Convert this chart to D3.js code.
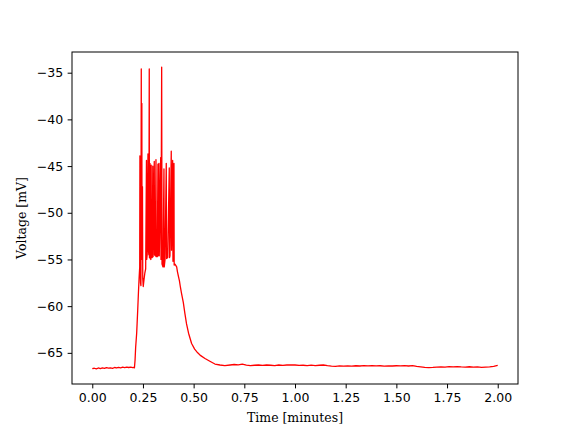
<!DOCTYPE html>
<html>
<head>
<meta charset="utf-8">
<script src="https://cdn.jsdelivr.net/npm/d3@7"></script>
<style>
  html, body { margin: 0; padding: 0; background: #fff; }
  svg { display: block; }
</style>
</head>
<body>
<svg id="chart" width="576" height="432"></svg>
<script>
// Time in minutes
const traceTime = [
  0.00, 0.01, 0.02, 0.03, 0.04, 0.05, 0.06, 0.07, 0.08, 0.09,
  0.10, 0.11, 0.12, 0.13, 0.14, 0.15, 0.16, 0.17, 0.18, 0.19,
  0.20, 0.205, 0.208, 0.211, 0.214, 0.219, 0.224, 0.228, 0.231, 0.234,
  0.235, 0.236, 0.238, 0.240, 0.2417, 0.2425, 0.2445, 0.2455, 0.2476, 0.249,
  0.2515, 0.255, 0.259, 0.2634, 0.2673, 0.2685, 0.271, 0.2747, 0.276, 0.279,
  0.2811, 0.282, 0.2846, 0.286, 0.289, 0.2905, 0.292, 0.2959, 0.2985, 0.300,
  0.3058, 0.307, 0.311, 0.3142, 0.3155, 0.3206, 0.324, 0.3255, 0.329, 0.3305,
  0.3374, 0.339, 0.3423, 0.344, 0.349, 0.3536, 0.355, 0.359, 0.365, 0.3665,
  0.372, 0.3798, 0.381, 0.3832, 0.3896, 0.391, 0.3965, 0.398, 0.403, 0.404,
  0.408, 0.4163, 0.42, 0.425, 0.43, 0.435, 0.44, 0.449, 0.457, 0.465,
  0.475, 0.49, 0.505, 0.52, 0.535, 0.556, 0.58, 0.605, 0.63, 0.654,
  0.68, 0.70, 0.72, 0.74, 0.76, 0.78, 0.80, 0.82, 0.84, 0.86,
  0.88, 0.90, 0.92, 0.94, 0.96, 0.98, 1.00, 1.02, 1.04, 1.06,
  1.08, 1.10, 1.12, 1.14, 1.16, 1.18, 1.20, 1.22, 1.24, 1.26,
  1.28, 1.30, 1.32, 1.34, 1.36, 1.38, 1.40, 1.42, 1.44, 1.46,
  1.48, 1.50, 1.52, 1.54, 1.56, 1.58, 1.60, 1.62, 1.64, 1.66,
  1.68, 1.70, 1.72, 1.74, 1.76, 1.78, 1.80, 1.82, 1.84, 1.86,
  1.88, 1.90, 1.92, 1.94, 1.96, 1.98, 2.00
];
// Membrane voltage in mV
const traceVoltage = [
  -66.70, -66.65, -66.72, -66.62, -66.68, -66.60, -66.66, -66.58, -66.64, -66.60,
  -66.66, -66.57, -66.62, -66.55, -66.60, -66.54, -66.59, -66.52, -66.57, -66.53,
  -66.58, -66.55, -66.60, -65.80, -64.40, -62.90, -60.50, -58.40, -57.00, -55.80,
  -43.90, -55.50, -57.50, -57.80, -34.60, -52.00, -38.30, -55.00, -47.20, -57.00,
  -57.90, -57.20, -56.50, -56.00, -44.40, -55.00, -54.50, -43.70, -53.80, -54.50,
  -34.60, -54.80, -44.70, -54.90, -55.00, -44.90, -54.80, -54.80, -45.00, -54.70,
  -44.50, -54.50, -54.60, -44.30, -54.70, -54.70, -44.80, -54.60, -44.70, -54.60,
  -44.10, -55.00, -34.40, -55.50, -55.80, -45.30, -55.80, -55.00, -44.70, -54.90,
  -54.80, -45.20, -54.80, -54.60, -43.40, -54.00, -44.40, -55.20, -44.70, -55.60,
  -55.50, -55.80, -56.30, -56.80, -57.30, -58.00, -58.60, -59.60, -60.80, -61.90,
  -62.90, -64.00, -64.60, -65.00, -65.30, -65.60, -65.90, -66.20, -66.30, -66.36,
  -66.30, -66.25, -66.28, -66.20, -66.32, -66.36, -66.33, -66.30, -66.35, -66.30,
  -66.33, -66.36, -66.30, -66.34, -66.30, -66.28, -66.30, -66.35, -66.33, -66.37,
  -66.32, -66.36, -66.33, -66.30, -66.37, -66.42, -66.44, -66.40, -66.43, -66.39,
  -66.42, -66.38, -66.41, -66.37, -66.40, -66.36, -66.40, -66.38, -66.42, -66.39,
  -66.41, -66.38, -66.40, -66.37, -66.41, -66.36, -66.45, -66.50, -66.55, -66.58,
  -66.56, -66.53, -66.50, -66.52, -66.48, -66.50, -66.47, -66.50, -66.52, -66.49,
  -66.53, -66.50, -66.55, -66.52, -66.50, -66.45, -66.35
];
const xTicks = [0.00, 0.25, 0.50, 0.75, 1.00, 1.25, 1.50, 1.75, 2.00];
const yTicks = [-65, -60, -55, -50, -45, -40, -35];
const xLabel = "Time [minutes]";
const yLabel = "Voltage [mV]";

const trace = traceTime.map((t, i) => ({ t, v: traceVoltage[i] }));

const svg = d3.select("#chart");
const margin = { left: 72, right: 58, top: 52, bottom: 48 };
const W = 576, H = 432;
const x0 = margin.left, x1 = W - margin.right, y0 = margin.top, y1 = H - margin.bottom;

function padded(ext) {
  const d = (ext[1] - ext[0]) * 0.05;
  return [ext[0] - d, ext[1] + d];
}
const x = d3.scaleLinear().domain(padded(d3.extent(traceTime))).range([x0, x1]);
const y = d3.scaleLinear().domain(padded(d3.extent(traceVoltage))).range([y1, y0]);

const fmtMinus = s => s.replace("-", "\u2212");

svg.append("defs").append("clipPath").attr("id", "clip")
  .append("rect").attr("x", x0).attr("y", y0).attr("width", x1 - x0).attr("height", y1 - y0);

svg.append("path")
  .datum(trace)
  .attr("clip-path", "url(#clip)")
  .attr("fill", "none")
  .attr("stroke", "#ff0000")
  .attr("stroke-width", 1.3)
  .attr("stroke-linejoin", "round")
  .attr("d", d3.line().x(d => x(d.t)).y(d => y(d.v)));

const tickLen = 4.375, tickPad = 4.375;
const xAxis = svg.append("g")
  .attr("transform", `translate(0,${y1})`)
  .call(d3.axisBottom(x).tickValues(xTicks).tickFormat(d3.format(".2f")).tickSize(tickLen).tickPadding(tickPad));
const yAxis = svg.append("g")
  .attr("transform", `translate(${x0},0)`)
  .call(d3.axisLeft(y).tickValues(yTicks).tickFormat(d => fmtMinus(d3.format("d")(d))).tickSize(tickLen).tickPadding(tickPad));

[xAxis, yAxis].forEach(g => {
  g.select(".domain").remove();
  g.selectAll(".tick line").attr("stroke", "#000").attr("stroke-width", 1);
  g.selectAll(".tick text")
    .attr("fill", "#000")
    .style("font-family", "'DejaVu Sans', sans-serif")
    .style("font-size", "12.5px");
});

svg.append("rect")
  .attr("x", x0).attr("y", y0).attr("width", x1 - x0).attr("height", y1 - y0)
  .attr("fill", "none").attr("stroke", "#000").attr("stroke-width", 1);

svg.append("text")
  .attr("x", (x0 + x1) / 2).attr("y", 422)
  .attr("text-anchor", "middle")
  .style("font-family", "'DejaVu Serif', serif")
  .style("font-size", "12.5px")
  .text(xLabel);

svg.append("text")
  .attr("transform", `translate(26,${(y0 + y1) / 2}) rotate(-90)`)
  .attr("text-anchor", "middle")
  .style("font-family", "'DejaVu Serif', serif")
  .style("font-size", "12.5px")
  .text(yLabel);
</script>
</body>
</html>
